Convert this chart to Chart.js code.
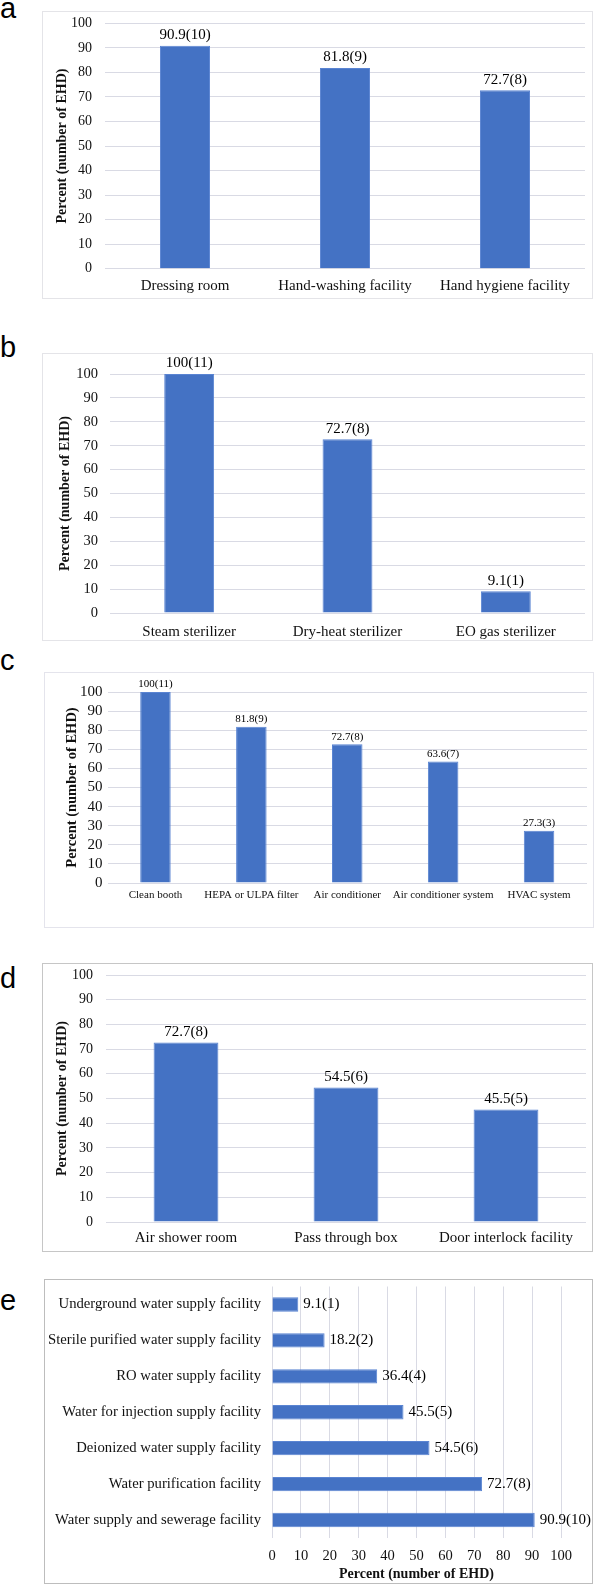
<!DOCTYPE html>
<html><head><meta charset="utf-8">
<script src="https://cdn.jsdelivr.net/npm/chart.js@4.4.1/dist/chart.umd.min.js"></script>
<style>
html,body{margin:0;padding:0;background:#fff;}
#root{position:relative;width:595px;height:1586px;overflow:hidden;background:#fff;}
.panel{position:absolute;box-sizing:border-box;border:1px solid #e2e2e2;background:#fff;}
.panel canvas{position:absolute;left:0;top:0;}
.letter{position:absolute;left:0;font-family:"Liberation Sans",Arial,sans-serif;font-size:29px;line-height:29px;color:#000;}
</style></head><body><div id="root"></div>
<script>
// ---- data ----
const aCategories = ['Dressing room', 'Hand-washing facility', 'Hand hygiene facility'];
const aValues = [90.9, 81.8, 72.7];
const aLabels = ['90.9(10)', '81.8(9)', '72.7(8)'];

const bCategories = ['Steam sterilizer', 'Dry-heat sterilizer', 'EO gas sterilizer'];
const bValues = [100, 72.7, 9.1];
const bLabels = ['100(11)', '72.7(8)', '9.1(1)'];

const cCategories = ['Clean booth', 'HEPA or ULPA filter', 'Air conditioner', 'Air conditioner system', 'HVAC system'];
const cValues = [100, 81.8, 72.7, 63.6, 27.3];
const cLabels = ['100(11)', '81.8(9)', '72.7(8)', '63.6(7)', '27.3(3)'];

const dCategories = ['Air shower room', 'Pass through box', 'Door interlock facility'];
const dValues = [72.7, 54.5, 45.5];
const dLabels = ['72.7(8)', '54.5(6)', '45.5(5)'];

const eCategories = ['Underground water supply facility', 'Sterile purified water supply facility', 'RO water supply facility', 'Water for injection supply facility', 'Deionized water supply facility', 'Water purification facility', 'Water supply and sewerage facility'];
const eValues = [9.1, 18.2, 36.4, 45.5, 54.5, 72.7, 90.9];
const eLabels = ['9.1(1)', '18.2(2)', '36.4(4)', '45.5(5)', '54.5(6)', '72.7(8)', '90.9(10)'];

const tickValues = [0, 10, 20, 30, 40, 50, 60, 70, 80, 90, 100];
const axisTitle = 'Percent (number of EHD)';
const panelLetters = ['a', 'b', 'c', 'd', 'e'];

// ---- rendering ----
const SERIF = '"Liberation Serif", "Times New Roman", serif';
const BAR = '#4472c4';
const GRID = '#d9dae4';
const root = document.getElementById('root');

const valueLabelPlugin = {
  id: 'valueLabels',
  afterDatasetsDraw(chart, args, opts) {
    const meta = chart.getDatasetMeta(0);
    const ctx = chart.ctx;
    ctx.save();
    ctx.font = opts.size + 'px ' + SERIF;
    ctx.fillStyle = '#000';
    ctx.textBaseline = 'middle';
    meta.data.forEach((el, i) => {
      const t = opts.labels[i];
      if (opts.horizontal) { ctx.textAlign = 'left'; ctx.fillText(t, el.x + opts.offset, el.y); }
      else { ctx.textAlign = 'center'; ctx.fillText(t, el.x, el.y - opts.offset); }
    });
    ctx.restore();
  }
};

function zeroPad(s) { s.paddingTop = 0; s.paddingBottom = 0; s.paddingLeft = 0; s.paddingRight = 0; }

function makeChart(p) {
  const div = document.createElement('div');
  div.className = 'panel';
  div.style.left = p.L + 'px'; div.style.top = p.T + 'px';
  div.style.width = p.W + 'px'; div.style.height = p.H + 'px';
  div.style.borderColor = p.border;
  const cv = document.createElement('canvas');
  const cw = p.W - 2, ch = p.H - 2, x0 = p.L + 1, y0 = p.T + 1;
  cv.width = cw; cv.height = ch;
  cv.style.width = cw + 'px'; cv.style.height = ch + 'px';
  div.appendChild(cv);
  root.appendChild(div);
  const horiz = !!p.horizontal;
  const leftW = p.area.l - x0;
  const bottomH = (y0 + ch) - p.area.b;

  const catScale = {
    type: 'category',
    position: horiz ? 'left' : 'bottom',
    grid: { display: false, drawTicks: false },
    border: { display: false },
    ticks: { autoSkip: false, maxRotation: 0, minRotation: 0, color: '#111', padding: p.catPad,
      font: { family: SERIF, size: p.catFont } },
    afterFit(s) { if (horiz) s.width = leftW; else s.height = bottomH; zeroPad(s); }
  };
  const valScale = {
    type: 'linear',
    position: horiz ? 'bottom' : 'left',
    min: tickValues[0], max: tickValues[tickValues.length - 1],
    grid: { color: GRID, lineWidth: 1, drawTicks: false },
    border: { display: false },
    ticks: { autoSkip: false, color: '#111', padding: p.valPad, font: { family: SERIF, size: p.valFont } },
    afterBuildTicks(s) { s.ticks = tickValues.map(v => ({ value: v })); },
    title: { display: true, text: axisTitle, color: '#111',
      font: { family: SERIF, size: p.titleFont, weight: 'bold', lineHeight: 1.2 },
      padding: horiz ? { top: 0, bottom: p.titlePad } : { top: p.titlePad, bottom: 0 } },
    afterFit(s) { if (horiz) s.height = bottomH; else s.width = leftW; zeroPad(s); }
  };
  const scales = horiz ? { x: valScale, y: catScale } : { x: catScale, y: valScale };

  new Chart(cv, {
    type: 'bar',
    data: { labels: p.categories, datasets: [{ data: p.values, backgroundColor: BAR,
      borderColor: '#5a84d2', borderWidth: 1, categoryPercentage: 1, barPercentage: p.barPct }] },
    options: {
      indexAxis: horiz ? 'y' : 'x',
      responsive: false, animation: false, devicePixelRatio: 1,
      layout: { padding: { left: 0, bottom: 0, top: p.area.t - y0, right: (x0 + cw) - p.area.r } },
      plugins: { legend: { display: false }, tooltip: { enabled: false },
        valueLabels: { labels: p.labels, size: p.labelFont, offset: p.labelOff, horizontal: horiz } },
      scales
    },
    plugins: [valueLabelPlugin]
  });
}

makeChart({ L: 42, T: 11, W: 551, H: 288, border: '#e4e4e8', area: { l: 105, r: 585, t: 23.3, b: 268.7 },
  categories: aCategories, values: aValues, labels: aLabels, barPct: 0.313,
  catFont: 15, catPad: 8, valFont: 14, valPad: 13, titleFont: 14, titlePad: 10.6, labelFont: 15, labelOff: 10.5 });
makeChart({ L: 42, T: 353, W: 551, H: 288, border: '#e4e4e8', area: { l: 110, r: 585, t: 374, b: 613 },
  categories: bCategories, values: bValues, labels: bLabels, barPct: 0.315,
  catFont: 15, catPad: 10, valFont: 14.5, valPad: 12, titleFont: 14, titlePad: 14, labelFont: 15, labelOff: 10.5 });
makeChart({ L: 44, T: 672, W: 550, H: 256, border: '#e4e4ec', area: { l: 107.5, r: 587, t: 692, b: 883 },
  categories: cCategories, values: cValues, labels: cLabels, barPct: 0.318,
  catFont: 11, catPad: 6, valFont: 15, valPad: 5, titleFont: 14.5, titlePad: 18.3, labelFont: 11, labelOff: 7.5 });
makeChart({ L: 42, T: 963, W: 551, H: 289, border: '#c6c6c6', area: { l: 106, r: 586, t: 975, b: 1222 },
  categories: dCategories, values: dValues, labels: dLabels, barPct: 0.405,
  catFont: 15, catPad: 7, valFont: 14, valPad: 13, titleFont: 14, titlePad: 10.6, labelFont: 15, labelOff: 10.5 });
makeChart({ L: 44, T: 1279, W: 549, H: 305, border: '#bdbdbd', area: { l: 272, r: 561, t: 1286.5, b: 1538 },
  horizontal: true,
  categories: eCategories, values: eValues, labels: eLabels, barPct: 0.40,
  catFont: 14.7, catPad: 11, valFont: 14.5, valPad: 9, titleFont: 14, titlePad: 0, labelFont: 15, labelOff: 5 });

const letterTops = [-6.5, 332.5, 645.5, 963.5, 1285.5];
panelLetters.forEach((t, i) => {
  const d = document.createElement('div');
  d.className = 'letter';
  d.textContent = t;
  d.style.top = letterTops[i] + 'px';
  root.appendChild(d);
});
</script></body></html>
